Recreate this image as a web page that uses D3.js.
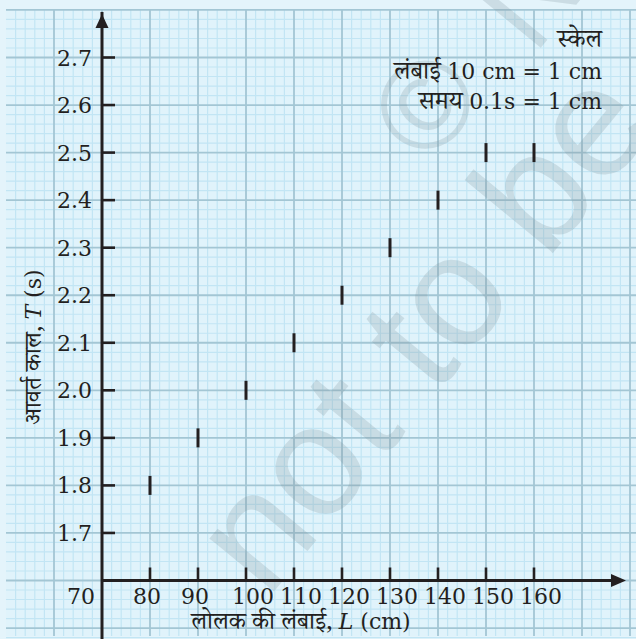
<!DOCTYPE html>
<html>
<head>
<meta charset="utf-8">
<script src="https://cdn.jsdelivr.net/npm/d3@7"></script>
<style>
  html, body { margin: 0; padding: 0; background: #e4f4fb; }
  svg { display: block; }
  .num { font-family: "DejaVu Serif", "Liberation Serif", serif; fill: #231f20; }
  .hin { font-family: "Noto Serif Devanagari", "Noto Sans Devanagari", "Lohit Devanagari", "DejaVu Serif", serif; fill: #231f20; }
</style>
</head>
<body>
<div id="chart"></div>
<script>
// pendulum length (cm) vs time period (s)
const lengths = [80, 90, 100, 110, 120, 130, 140, 150, 160];
const periods = [1.8, 1.9, 2.0, 2.1, 2.2, 2.3, 2.4, 2.5, 2.5];
const xTicks = [80, 90, 100, 110, 120, 130, 140, 150, 160];
const yTicks = [1.7, 1.8, 1.9, 2.0, 2.1, 2.2, 2.3, 2.4, 2.5, 2.6, 2.7];
const originLabel = "70";
const scaleTitle = "स्केल";
const scaleLines = [["लंबाई", "10 cm = 1 cm"], ["समय", "0.1s = 1 cm"]];

const W = 636, H = 639;
const ink = "#231f20";

const svg = d3.select("#chart")
    .append("svg")
    .attr("width", W)
    .attr("height", H);

const x = d3.scaleLinear().domain([70, 160]).range([102, 534]);
const y = d3.scaleLinear().domain([1.6, 2.7]).range([580.5, 57.5]);

// graph paper
svg.append("rect")
    .attr("x", x(50)).attr("y", y(2.8))
    .attr("width", W - x(50)).attr("height", H - y(2.8) - 3)
    .attr("fill", "#e0f3fb");

const grid = svg.append("g");
const gx0 = x(50), gx1 = W, gy0 = y(2.8), gy1 = H - 3;

d3.range(50, 183, 2).forEach(v => {
    if (v % 10 === 0) return;
    grid.append("line")
        .attr("x1", x(v)).attr("x2", x(v)).attr("y1", gy0).attr("y2", gy1)
        .attr("stroke", "#c2e5f4").attr("stroke-width", 1.2);
});
d3.range(0, 67).forEach(i => {
    if (i % 5 === 0) return;
    const v = 2.8 - i * 0.02;
    grid.append("line")
        .attr("x1", gx0).attr("x2", gx1).attr("y1", y(v)).attr("y2", y(v))
        .attr("stroke", "#c2e5f4").attr("stroke-width", 1.2);
});
d3.range(60, 190, 10).forEach(v => {
    grid.append("line")
        .attr("x1", x(v)).attr("x2", x(v)).attr("y1", gy0).attr("y2", gy1)
        .attr("stroke", "#a3c6d4").attr("stroke-width", 1.8);
});
d3.range(0, 14).forEach(i => {
    const v = 2.8 - i * 0.1;
    grid.append("line")
        .attr("x1", gx0).attr("x2", gx1).attr("y1", y(v)).attr("y2", y(v))
        .attr("stroke", "#a3c6d4").attr("stroke-width", 1.8);
});

// watermark
const wm = svg.append("g")
    .attr("transform", "translate(267,600) rotate(-50.5)")
    .attr("fill", "#7f929c")
    .attr("fill-opacity", 0.24)
    .style("font-family", "Liberation Sans, Arial, sans-serif");
wm.append("text").attr("x", 0).attr("y", 0)
    .style("font-size", "158px").text("not to be");
wm.append("text").attr("x", 437).attr("y", -150)
    .style("font-size", "125px").text("©");
wm.append("text").attr("x", 590).attr("y", -140)
    .style("font-size", "125px").text("NCERT");

// axes
const axes = svg.append("g");
axes.append("line")
    .attr("x1", x(70)).attr("x2", x(70)).attr("y1", H).attr("y2", 12)
    .attr("stroke", ink).attr("stroke-width", 3);
axes.append("path")
    .attr("d", `M${x(70)},14 L${x(70) - 6.5},28 L${x(70) + 6.5},28 Z`)
    .attr("fill", ink);
axes.append("line")
    .attr("x1", x(70)).attr("x2", 614).attr("y1", y(1.6)).attr("y2", y(1.6))
    .attr("stroke", ink).attr("stroke-width", 3);
axes.append("path")
    .attr("d", `M626,${y(1.6)} L611,${y(1.6) - 6.5} L611,${y(1.6) + 6.5} Z`)
    .attr("fill", ink);

// ticks
axes.selectAll(".yt")
    .data(yTicks)
    .enter()
    .append("line")
    .attr("x1", x(70)).attr("x2", x(70) + 13)
    .attr("y1", d => y(d)).attr("y2", d => y(d))
    .attr("stroke", ink).attr("stroke-width", 2.6);

axes.selectAll(".xt")
    .data(xTicks)
    .enter()
    .append("line")
    .attr("x1", d => x(d)).attr("x2", d => x(d))
    .attr("y1", y(1.6)).attr("y2", y(1.6) - 13)
    .attr("stroke", ink).attr("stroke-width", 2.6);

svg.selectAll(".ylab")
    .data(yTicks)
    .enter()
    .append("text")
    .attr("class", "num")
    .attr("x", x(70) - 10)
    .attr("y", d => y(d) + 8)
    .attr("text-anchor", "end")
    .style("font-size", "22px")
    .text(d => d.toFixed(1));

svg.selectAll(".xlab")
    .data(xTicks)
    .enter()
    .append("text")
    .attr("class", "num")
    .attr("x", d => x(d) + (d >= 100 ? 7 : -3))
    .attr("y", 604)
    .attr("text-anchor", "middle")
    .style("font-size", "22px")
    .text(d => d);

svg.append("text")
    .attr("class", "num")
    .attr("x", x(70) - 7)
    .attr("y", 604)
    .attr("text-anchor", "end")
    .style("font-size", "22px")
    .text(originLabel);

// data marks
svg.selectAll(".pt")
    .data(lengths.map((l, i) => ({ l: l, t: periods[i] })))
    .enter()
    .append("line")
    .attr("x1", d => x(d.l)).attr("x2", d => x(d.l))
    .attr("y1", d => y(d.t) - 9.5).attr("y2", d => y(d.t) + 9.5)
    .attr("stroke", ink).attr("stroke-width", 3);

// axis titles
const xt = svg.append("text")
    .attr("class", "hin")
    .attr("x", 301)
    .attr("y", 629)
    .attr("text-anchor", "middle")
    .style("font-size", "24px");
xt.append("tspan").text("लोलक की लंबाई, ");
xt.append("tspan").attr("class", "num").style("font-style", "italic").style("font-size", "22px").text("L");
xt.append("tspan").attr("class", "num").style("font-size", "22px").text(" (cm)");

const yt = svg.append("text")
    .attr("class", "hin")
    .attr("transform", "translate(41,347) rotate(-90)")
    .attr("text-anchor", "middle")
    .style("font-size", "24px");
yt.append("tspan").text("आवर्त काल, ");
yt.append("tspan").attr("class", "num").style("font-style", "italic").style("font-size", "22px").text("T");
yt.append("tspan").attr("class", "num").style("font-size", "22px").text(" (s)");

// scale note
svg.append("text")
    .attr("class", "hin")
    .attr("x", 602)
    .attr("y", 47)
    .attr("text-anchor", "end")
    .style("font-size", "25px")
    .text(scaleTitle);

svg.selectAll(".scale")
    .data(scaleLines)
    .enter()
    .append("text")
    .attr("class", "hin")
    .attr("x", 602)
    .attr("y", (d, i) => 79 + i * 30)
    .attr("text-anchor", "end")
    .style("font-size", "25px")
    .each(function (d) {
        const t = d3.select(this);
        t.append("tspan").text(d[0] + " ");
        t.append("tspan").attr("class", "num").style("font-size", "22px").text(d[1]);
    });
</script>
</body>
</html>
